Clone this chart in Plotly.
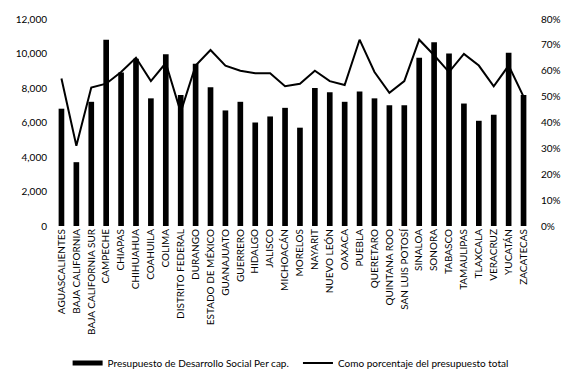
import plotly.graph_objects as go

estados = [
    "AGUASCALIENTES", "BAJA CALIFORNIA", "BAJA CALIFORNIA SUR", "CAMPECHE",
    "CHIAPAS", "CHIHUAHUA", "COAHUILA", "COLIMA", "DISTRITO FEDERAL",
    "DURANGO", "ESTADO DE MÉXICO", "GUANAJUATO", "GUERRERO", "HIDALGO",
    "JALISCO", "MICHOACÁN", "MORELOS", "NAYARIT", "NUEVO LEÓN", "OAXACA",
    "PUEBLA", "QUERETARO", "QUINTANA ROO", "SAN LUIS POTOSÍ", "SINALOA",
    "SONORA", "TABASCO", "TAMAULIPAS", "TLAXCALA", "VERACRUZ", "YUCATÁN",
    "ZACATECAS",
]

presupuesto_per_cap = [
    6800, 3700, 7200, 10800, 8900, 9700, 7400, 9950, 7600, 9400,
    8050, 6700, 7200, 6000, 6350, 6850, 5700, 8000, 7750, 7200,
    7800, 7400, 7000, 7000, 9750, 10650, 10000, 7100, 6100, 6450,
    10050, 7600,
]

porcentaje_total = [
    0.57, 0.31, 0.535, 0.55, 0.595, 0.65, 0.56, 0.63, 0.44, 0.62,
    0.68, 0.62, 0.60, 0.59, 0.59, 0.54, 0.55, 0.60, 0.56, 0.545,
    0.72, 0.595, 0.515, 0.56, 0.72, 0.66, 0.595, 0.665, 0.62, 0.54,
    0.62, 0.50,
]

FONT = "Lato"
BAR_NAME = "Presupuesto de Desarrollo Social Per cap."
LINE_NAME = "Como porcentaje del presupuesto total"

fig = go.Figure()

fig.add_trace(go.Bar(
    x=estados,
    y=presupuesto_per_cap,
    name=BAR_NAME,
    marker=dict(color="#000000", line=dict(width=0)),
    showlegend=False,
))

# Wide flat legend key for the bar series
fig.add_trace(go.Scatter(
    x=[None], y=[None],
    name=BAR_NAME,
    mode="lines",
    line=dict(color="#000000", width=5),
    showlegend=True,
    legend="legend",
))

fig.add_trace(go.Scatter(
    x=estados,
    y=porcentaje_total,
    name=LINE_NAME,
    mode="lines",
    line=dict(color="#000000", width=2),
    yaxis="y2",
    legend="legend2",
))

legend_common = dict(
    orientation="h",
    xref="container", yref="container",
    xanchor="left",
    y=0.019, yanchor="middle",
    font=dict(family=FONT, size=10, color="#000000"),
    itemwidth=30,
    bgcolor="rgba(0,0,0,0)",
)

fig.update_layout(
    width=573,
    height=370,
    margin=dict(l=54, r=38, t=14, b=144),
    paper_bgcolor="white",
    plot_bgcolor="white",
    font=dict(family=FONT, size=10, color="#000000"),
    bargap=0.62,
    showlegend=True,
    legend=dict(x=0.118, **legend_common),
    legend2=dict(x=0.52, **legend_common),
    xaxis=dict(
        tickangle=-90,
        showgrid=False,
        showline=False,
        ticks="",
        tickfont=dict(family=FONT, size=10),
    ),
    yaxis=dict(
        range=[0, 12000],
        dtick=2000,
        tickformat=",",
        showgrid=False,
        zeroline=False,
        showline=False,
        ticks="",
        ticklabelstandoff=6,
        tickfont=dict(family=FONT, size=10),
    ),
    yaxis2=dict(
        range=[0, 0.8],
        dtick=0.1,
        tickformat=".0%",
        overlaying="y",
        side="right",
        showgrid=False,
        zeroline=False,
        showline=False,
        ticks="",
        ticklabelstandoff=9,
        tickfont=dict(family=FONT, size=10),
    ),
)

fig.write_html("out.html")
